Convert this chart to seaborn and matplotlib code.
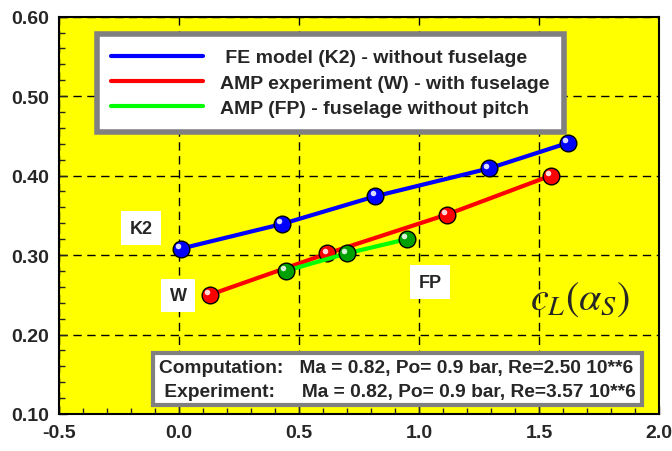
import numpy as np
import matplotlib
matplotlib.use("Agg")
import matplotlib.pyplot as plt
import seaborn as sns
from matplotlib.lines import Line2D
from matplotlib.transforms import ScaledTranslation

# FE model (K2) - without fuselage
k2_x = [0.007, 0.428, 0.818, 1.291, 1.619]
k2_y = [0.308, 0.339, 0.374, 0.409, 0.441]
# AMP experiment (W) - with fuselage
w_x = [0.128, 0.618, 1.116, 1.549]
w_y = [0.250, 0.302, 0.351, 0.400]
# AMP (FP) - fuselage without pitch
fp_x = [0.445, 0.698, 0.948]
fp_y = [0.280, 0.302, 0.320]

labels = [" FE model (K2) - without fuselage",
          "AMP experiment (W) - with fuselage",
          "AMP (FP) - fuselage without pitch"]
x_ticks = [-0.5, 0.0, 0.5, 1.0, 1.5, 2.0]
y_ticks = [0.10, 0.20, 0.30, 0.40, 0.50, 0.60]


def main():
    sns.set_style("white")
    plt.rcParams["font.family"] = ["Liberation Sans", "DejaVu Sans"]
    plt.rcParams["font.weight"] = "normal"
    plt.rcParams["mathtext.fontset"] = "stix"

    fig = plt.figure(figsize=(6.72, 4.52), dpi=100)
    ax = fig.add_axes([0.0878, 0.0819, 0.893, 0.879])
    ax.set_facecolor("#FFFF00")

    series = [
        (k2_x, k2_y, "#0000FF", "#0000FF"),
        (w_x, w_y, "#FF0000", "#FF0000"),
        (fp_x, fp_y, "#00FF00", "#00A000"),
    ]
    shift = ScaledTranslation(-2 / 72, 2 / 72, fig.dpi_scale_trans)
    for xs, ys, lc, mc in series:
        sns.lineplot(x=xs, y=ys, ax=ax, color=lc, lw=3, sort=False,
                     marker="o", ms=12, mfc=mc, mec="black", mew=1,
                     legend=False, zorder=3)
        ax.plot(xs, ys, "o", ms=4, color="white", alpha=0.85, mew=0,
                transform=ax.transData + shift, zorder=4)

    ax.set_xlim(-0.5, 2.0)
    ax.set_ylim(0.10, 0.60)
    ax.set_xticks(x_ticks)
    ax.set_yticks(y_ticks)
    ax.set_xticklabels([f"{v:.1f}" for v in x_ticks])
    ax.set_yticklabels([f"{v:.2f}" for v in y_ticks])
    ax.set_xticks(np.arange(-0.5, 2.01, 0.1), minor=True)
    ax.set_yticks(np.arange(0.10, 0.601, 0.02), minor=True)
    ax.tick_params(which="major", direction="in", length=6, width=1,
                   labelsize=14, pad=7, bottom=True, left=True)
    ax.tick_params(which="minor", direction="in", length=4, width=1,
                   bottom=True, left=True)
    for lab in ax.get_xticklabels() + ax.get_yticklabels():
        lab.set_fontweight("bold")
    ax.grid(True, which="major", color="black", ls=(0, (6, 4)), lw=1)
    ax.set_axisbelow(True)
    for sp in ax.spines.values():
        sp.set_color("black")
        sp.set_linewidth(1.5)

    handles = [Line2D([], [], color=c, lw=3) for _, _, c, _ in series]
    leg = ax.legend(handles, labels, loc="upper left",
                    bbox_to_anchor=(0.063, 0.956), borderaxespad=0,
                    fancybox=False, framealpha=1, edgecolor="#808080",
                    fontsize=14, handlelength=4.7, handletextpad=0.9,
                    labelspacing=0.4, borderpad=0.75)
    leg.get_frame().set_linewidth(4)
    leg.set_zorder(5)
    for t in leg.get_texts():
        t.set_fontweight("bold")

    for txt, x, y in [("K2", -0.158, 0.334), ("W", -0.004, 0.249), ("FP", 1.046, 0.266)]:
        ax.text(x, y, txt, ha="center", va="center", fontsize=13,
                fontweight="bold", zorder=5,
                bbox=dict(facecolor="white", edgecolor="none", pad=6))

    ax.text(1.671, 0.245, r"$c_L(\alpha_S)$", ha="center", va="center",
            fontsize=29, zorder=5)

    info = ("Computation:   Ma = 0.82, Po= 0.9 bar, Re=2.50 10**6\n"
            " Experiment:     Ma = 0.82, Po= 0.9 bar, Re=3.57 10**6")
    ax.text(0.167, 0.036, info, transform=ax.transAxes, ha="left", va="bottom",
            fontsize=13.8, fontweight="bold", linespacing=1.5, zorder=5,
            bbox=dict(facecolor="white", edgecolor="#808080", lw=3,
                      boxstyle="square,pad=0.3"))

    fig.savefig("out.png", dpi=100, facecolor="white")


if __name__ == "__main__":
    main()
